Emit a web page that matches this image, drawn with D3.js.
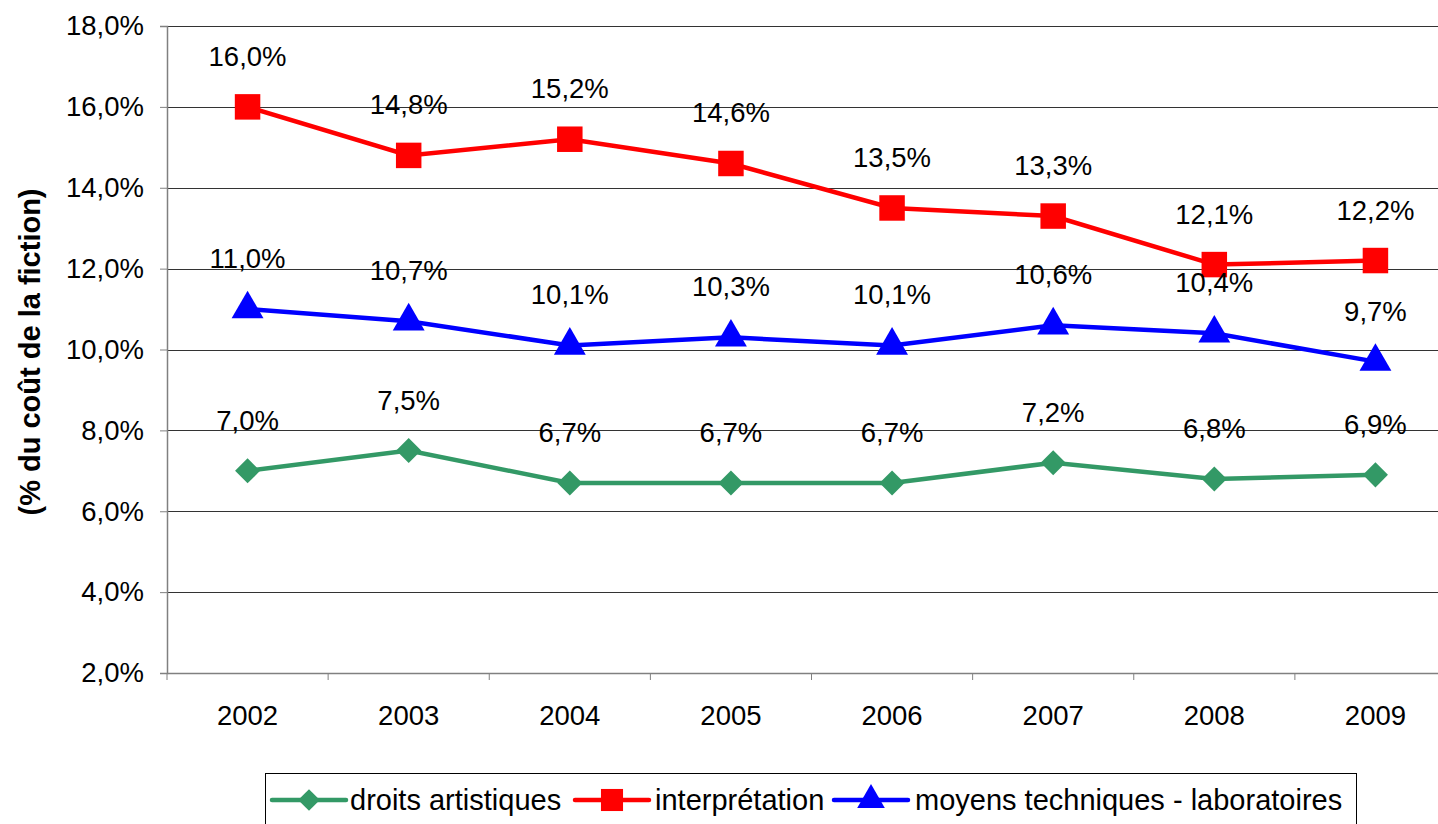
<!DOCTYPE html>
<html>
<head>
<meta charset="utf-8">
<script src="https://cdn.jsdelivr.net/npm/d3@7"></script>
<style>
  body { margin: 0; background: #fff; }
  svg { display: block; font-family: "Liberation Sans", Arial, sans-serif; }
</style>
</head>
<body>
<div class="chart"></div>
<script>
var years = ["2002", "2003", "2004", "2005", "2006", "2007", "2008", "2009"];
var droits = [7.0, 7.5, 6.7, 6.7, 6.7, 7.2, 6.8, 6.9];
var interpretation = [16.0, 14.8, 15.2, 14.6, 13.5, 13.3, 12.1, 12.2];
var moyens = [11.0, 10.7, 10.1, 10.3, 10.1, 10.6, 10.4, 9.7];
var yTicks = [2, 4, 6, 8, 10, 12, 14, 16, 18];

var series = [
  { name: "droits artistiques", values: droits, color: "#339966", symbol: d3.symbolDiamond2, size: 400 },
  { name: "interprétation", values: interpretation, color: "#ff0000", symbol: d3.symbolSquare, size: 650 },
  { name: "moyens techniques - laboratoires", values: moyens, color: "#0000ff", symbol: d3.symbolTriangle, size: 440 }
];

var svgWidth = 1438;
var svgHeight = 824;

var margin = { top: 26, left: 167 };
var width = 1456 - margin.left;
var height = 673 - margin.top;

var fmt = function (v) { return v.toFixed(1).replace(".", ",") + "%"; };

var svg = d3.select(".chart")
  .append("svg")
  .attr("width", svgWidth)
  .attr("height", svgHeight);

var chartGroup = svg.append("g")
  .attr("transform", `translate(${margin.left}, ${margin.top})`);

var xScale = d3.scaleBand()
  .domain(years)
  .range([0, width]);

var yScale = d3.scaleLinear()
  .domain([2, 18])
  .range([height, 0]);

// gridlines
chartGroup.append("g")
  .selectAll("line")
  .data(yTicks.slice(1))
  .enter()
  .append("line")
  .attr("x1", 0)
  .attr("x2", width)
  .attr("y1", d => Math.round(yScale(d)) + 0.5)
  .attr("y2", d => Math.round(yScale(d)) + 0.5)
  .attr("stroke", "#333")
  .attr("stroke-width", 1);

// y axis
var leftAxis = d3.axisLeft(yScale)
  .tickValues(yTicks)
  .tickSize(7)
  .tickPadding(16)
  .tickFormat(fmt);

var yAxis = chartGroup.append("g").call(leftAxis);
yAxis.select(".domain").attr("stroke", "#808080").attr("stroke-width", 1.5);
yAxis.selectAll(".tick line").attr("stroke", "#808080");
yAxis.selectAll("text")
  .attr("font-size", "27.5px")
  .attr("fill", "#000")
  .attr("font-family", "Liberation Sans, Arial, sans-serif");

// x axis
var bottomAxis = d3.axisBottom(xScale).tickSize(0).tickPadding(32);
var xAxis = chartGroup.append("g")
  .attr("transform", `translate(0, ${height})`)
  .call(bottomAxis);
xAxis.select(".domain").attr("stroke", "#808080").attr("stroke-width", 1.5);
xAxis.selectAll("text")
  .attr("font-size", "27.5px")
  .attr("fill", "#000")
  .attr("font-family", "Liberation Sans, Arial, sans-serif");

// category separators
xAxis.selectAll(".sep")
  .data(years)
  .enter()
  .append("line")
  .attr("class", "sep")
  .attr("x1", d => xScale(d))
  .attr("x2", d => xScale(d))
  .attr("y1", 0)
  .attr("y2", 7)
  .attr("stroke", "#808080");

// y title
svg.append("text")
  .attr("transform", "translate(40, 352) rotate(-90)")
  .attr("text-anchor", "middle")
  .attr("font-size", "29px")
  .attr("font-weight", "bold")
  .text("(% du coût de la fiction)");

var cx = d => xScale(d) + xScale.bandwidth() / 2;

var line = d3.line()
  .x((d, i) => cx(years[i]))
  .y(d => yScale(d));

series.forEach(function (s) {
  var g = chartGroup.append("g");
  g.append("path")
    .datum(s.values)
    .attr("d", line)
    .attr("fill", "none")
    .attr("stroke", s.color)
    .attr("stroke-width", 4.5);

  g.selectAll("path.mark")
    .data(s.values)
    .enter()
    .append("path")
    .attr("class", "mark")
    .attr("d", d3.symbol().type(s.symbol).size(s.size))
    .attr("transform", (d, i) => `translate(${cx(years[i])}, ${yScale(d)})`)
    .attr("fill", s.color);

  g.selectAll("text")
    .data(s.values)
    .enter()
    .append("text")
    .attr("x", (d, i) => cx(years[i]))
    .attr("y", d => yScale(d) - 41)
    .attr("text-anchor", "middle")
    .attr("font-size", "27.5px")
    .attr("fill", "#000")
    .text(fmt);
});

// legend
var legend = svg.append("g");
legend.append("rect")
  .attr("x", 265.5)
  .attr("y", 773.5)
  .attr("width", 1091)
  .attr("height", 70)
  .attr("fill", "#fff")
  .attr("stroke", "#000")
  .attr("stroke-width", 1);

var legendX = [272, 575, 834];
var legendTextX = [350, 655, 915];
series.forEach(function (s, i) {
  var ly = 800;
  legend.append("line")
    .attr("x1", legendX[i])
    .attr("x2", legendX[i] + 74)
    .attr("y1", ly)
    .attr("y2", ly)
    .attr("stroke", s.color)
    .attr("stroke-width", 4.5)
    .attr("stroke-linecap", "round");
  legend.append("path")
    .attr("d", d3.symbol().type(s.symbol).size(s.size * 0.75))
    .attr("transform", `translate(${legendX[i] + 37}, ${ly})`)
    .attr("fill", s.color);
  legend.append("text")
    .attr("x", legendTextX[i])
    .attr("y", ly + 10)
    .attr("font-size", "29px")
    .attr("fill", "#000")
    .text(s.name);
});
</script>
</body>
</html>
